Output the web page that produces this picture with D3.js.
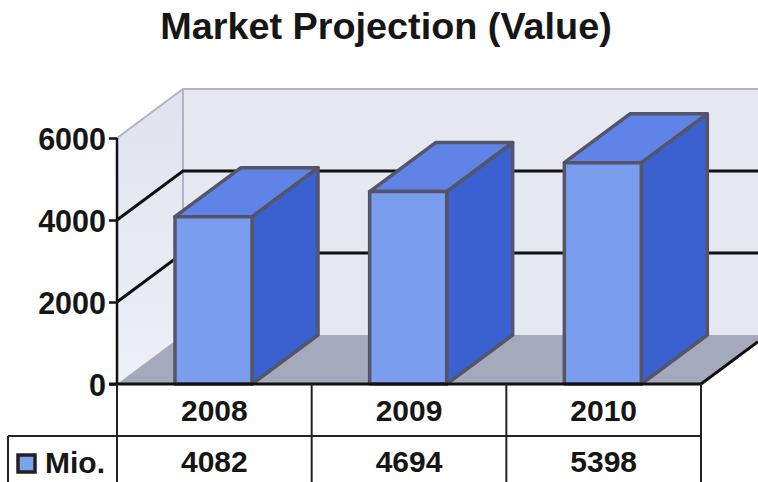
<!DOCTYPE html>
<html><head><meta charset="utf-8">
<script src="https://cdn.jsdelivr.net/npm/d3@7"></script>
<style>html,body{margin:0;padding:0;background:#fff;overflow:hidden}svg{display:block}text{font-family:"Liberation Sans",Arial,sans-serif;font-weight:700;fill:#161616}</style>
</head><body><svg id="c" width="758" height="482"></svg>
<script>
const years = ["2008","2009","2010"];
const values = [4082,4694,5398];
const yTicks = [0,2000,4000,6000];
const seriesName = "Mio.";
const titleText = "Market Projection (Value)";

const W=758,H=482,dx=66,dy=-49;
const svg=d3.select("#c");
const defs=svg.append("defs");
const sideGrad=defs.append("linearGradient").attr("id","side").attr("x1",0).attr("y1",0).attr("x2",0).attr("y2",1);
sideGrad.append("stop").attr("offset","0").attr("stop-color","#e0e3ef");
sideGrad.append("stop").attr("offset","1").attr("stop-color","#eef0f6");
const x=d3.scaleBand().domain(years).range([117,701]).paddingInner(0).paddingOuter(0);
const y=d3.scaleLinear().domain([0,6000]).range([384,138]);
const x0=x.range()[0],x1=x.range()[1],yb=y(0),yt=y(6000);
const poly=p=>p.map(a=>a.join(",")).join(" ");

svg.append("text").attr("x",386).attr("y",39).attr("text-anchor","middle").style("font-size","37.8px").text(titleText);

// walls
svg.append("polygon").attr("points",poly([[x0+dx,yt+dy],[W+20,yt+dy],[W+20,yb+dy],[x0+dx,yb+dy]])).attr("fill","#e5e7f1");
svg.append("polygon").attr("points",poly([[x0,yt],[x0+dx,yt+dy],[x0+dx,yb+dy],[x0,yb]])).attr("fill","url(#side)");
svg.append("polygon").attr("points",poly([[x0,yb],[x0+dx,yb+dy],[x1+dx,yb+dy],[x1,yb]])).attr("fill","#a4a9bc");
// wall top edge
svg.append("path").attr("d",`M${x0},${yt}L${x0+dx},${yt+dy}L${W},${yt+dy}M${x0+dx},${yt+dy}V${yb+dy}`)
  .attr("fill","none").attr("stroke","#b0b4c6").attr("stroke-width",2);
// gridlines
svg.append("g").selectAll("path").data(yTicks.filter(t=>t>0&&t<6000)).join("path")
  .attr("d",t=>`M${x0},${y(t)}L${x0+dx},${y(t)+dy}L${W},${y(t)+dy}`)
  .attr("fill","none").attr("stroke","#111").attr("stroke-width",3);
// floor right edge
svg.append("line").attr("x1",x1).attr("y1",yb).attr("x2",W).attr("y2",yb-(W-x1)*(-dy)/dx)
  .attr("stroke","#111").attr("stroke-width",3);

// bars
const bw=77, off=58;
const bars=svg.append("g").selectAll("g").data(years.map((d,i)=>({d,v:values[i]}))).join("g")
  .attr("stroke","#55556a").attr("stroke-width",3.5).attr("stroke-linejoin","round");
bars.append("polygon").attr("points",d=>{const l=x(d.d)+off,r=l+bw,t=y(d.v);
  return poly([[r,yb],[r+dx,yb+dy],[r+dx,t+dy],[r,t]]);}).attr("fill","#3b60d0");
bars.append("polygon").attr("points",d=>{const l=x(d.d)+off,r=l+bw,t=y(d.v);
  return poly([[l,t],[r,t],[r+dx,t+dy],[l+dx,t+dy]]);}).attr("fill","#5f83e6");
bars.append("rect").attr("x",d=>x(d.d)+off).attr("y",d=>y(d.v)).attr("width",bw).attr("height",d=>yb-y(d.v)).attr("fill","#7a9ded");

// y axis
const ax=svg.append("g").attr("transform",`translate(${x0},0)`).call(d3.axisLeft(y).tickValues(yTicks).tickFormat(d3.format("d")).tickSize(8).tickPadding(3));
ax.selectAll("path,line").attr("stroke","#111").attr("stroke-width",2.5);
ax.select(".domain").attr("d",`M0,${yt}V${yb}`);
ax.selectAll("text").style("font-size","30.5px").style("font-family",'"Liberation Sans",Arial,sans-serif').attr("fill","#161616").attr("dy","0.37em");

// data table
const rowA=436,tableB=H+2,legendL=8;
const t=svg.append("g").attr("stroke","#222").attr("stroke-width",2).attr("fill","none");
t.append("line").attr("x1",x0-8).attr("x2",x1).attr("y1",yb).attr("y2",yb).attr("stroke","#111").attr("stroke-width",3);
t.append("line").attr("x1",legendL).attr("x2",x1).attr("y1",rowA).attr("y2",rowA);
t.selectAll(".v").data([...years.map(d=>x(d)),x1]).join("line").attr("class","v")
  .attr("x1",d=>d).attr("x2",d=>d).attr("y1",yb).attr("y2",tableB);
t.append("line").attr("x1",legendL).attr("x2",legendL).attr("y1",rowA).attr("y2",tableB);

const cell=(g,a,b)=>g.selectAll(null).data(a).join("text").attr("x",(d,i)=>x(years[i])+x.bandwidth()/2).attr("y",b).attr("text-anchor","middle").style("font-size","30px").text(d=>d);
cell(svg.append("g"),years,421);
cell(svg.append("g"),values,472);

svg.append("rect").attr("x",18).attr("y",455).attr("width",17).attr("height",17).attr("fill","#7ba4ee").attr("stroke","#222").attr("stroke-width",3.5);
svg.append("text").attr("x",45).attr("y",473).style("font-size","30px").text(seriesName);
</script></body></html>
